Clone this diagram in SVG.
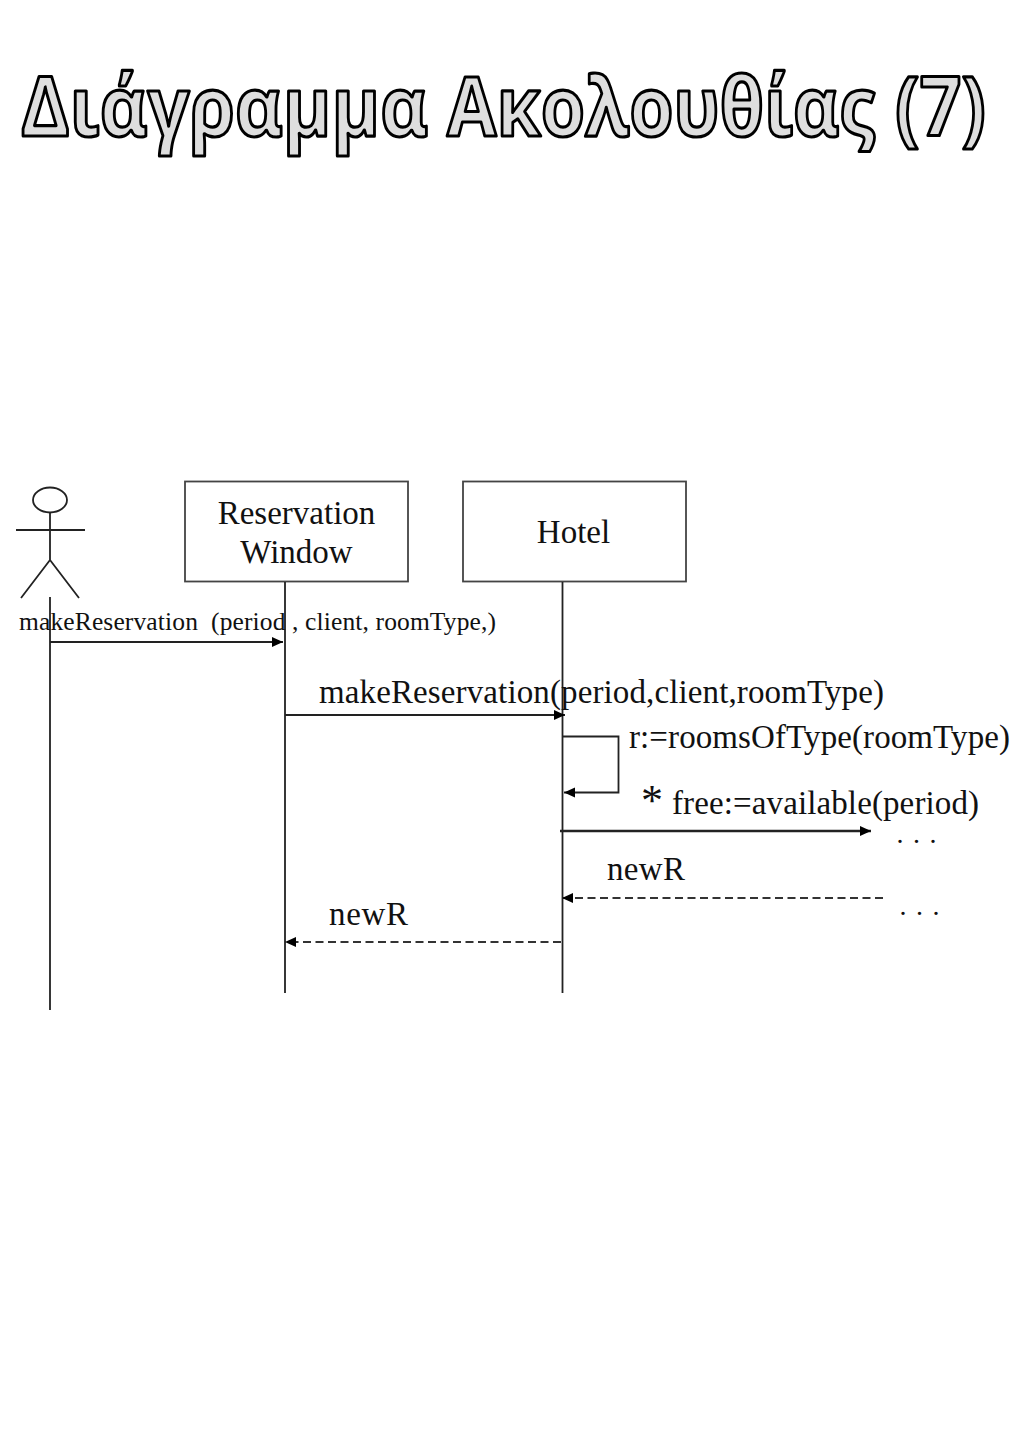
<svg xmlns="http://www.w3.org/2000/svg" width="1024" height="1448" viewBox="0 0 1024 1448">
<style>
.bg{fill:#fff}
.title{font-family:"Open Sans","Noto Sans",sans-serif;font-size:82px;font-weight:700;fill:#dedede;stroke:#000;stroke-width:3.2px;stroke-linejoin:round}
.box{fill:#fff;stroke:#444;stroke-width:1.8}
.l{stroke:#222;stroke-width:1.8;fill:none}
.d{stroke:#333;stroke-width:2;fill:none;stroke-dasharray:8 4.500}
.t{font-family:"Liberation Serif","Times New Roman",serif;fill:#111}
.s34{font-size:33px}
.s26{font-size:25.5px;white-space:pre}
.dots{font-size:28px;letter-spacing:9.500px}
</style>
<defs>
<marker id="a" markerUnits="userSpaceOnUse" markerWidth="12" markerHeight="12" refX="11" refY="5" orient="auto"><path d="M0 0L11 5L0 10Z" fill="#000"/></marker>
</defs>
<rect class="bg" width="1024" height="1448"/>
<text id="title" class="title" y="136"><tspan x="21" textLength="407" lengthAdjust="spacingAndGlyphs">Διάγραμμα</tspan> <tspan x="447" textLength="428" lengthAdjust="spacingAndGlyphs">Ακολουθίας</tspan> <tspan x="895" textLength="91" lengthAdjust="spacingAndGlyphs">(7)</tspan></text>
<g id="actor">
<ellipse class="l" cx="50" cy="500" rx="17" ry="12.5"/>
<path class="l" d="M50 512V560M16 530H85M50 560L21 598M50 560L79 598"/>
</g>
<g id="reservation-window">
<rect class="box" x="185" y="481.500" width="223" height="100"/>
<text class="t s34" text-anchor="middle" x="296.500" y="524">Reservation</text>
<text class="t s34" text-anchor="middle" x="296.500" y="563">Window</text>
</g>
<g id="hotel">
<rect class="box" x="463" y="481.500" width="223" height="100"/>
<text class="t s34" text-anchor="middle" x="573.500" y="543">Hotel</text>
</g>
<g id="connectors">
<path class="l" d="M50 597V1010M285 582V993M562.500 582V993"/>
<path class="l" d="M50 642H283" marker-end="url(#a)"/>
<path class="l" d="M285 715H565" marker-end="url(#a)"/>
<path class="l" d="M563 736.500H618.500V792.500H564" marker-end="url(#a)"/>
<path class="l" style="stroke-width:2.400" d="M560 831H871" marker-end="url(#a)"/>
<path class="d" d="M883 898H562" marker-end="url(#a)"/>
<path class="d" d="M561 942H285" marker-end="url(#a)"/>
</g>
<g id="labels">
<text class="t s26" x="19" y="630" textLength="477">makeReservation  (period , client, roomType,)</text>
<text class="t s34" x="319" y="703" textLength="565">makeReservation(period,client,roomType)</text>
<text class="t s34" x="629" y="748" textLength="381">r:=roomsOfType(roomType)</text>
<text class="t" style="font-size:44px" x="641" y="815">*</text>
<text class="t s34" x="672" y="814" textLength="307">free:=available(period)</text>
<text class="t s34" x="607" y="880" textLength="78">newR</text>
<text class="t s34" x="329" y="925" textLength="79">newR</text>
<text class="t dots" x="896.500" y="843">...</text>
<text class="t dots" x="899.500" y="915">...</text>
</g>
</svg>
